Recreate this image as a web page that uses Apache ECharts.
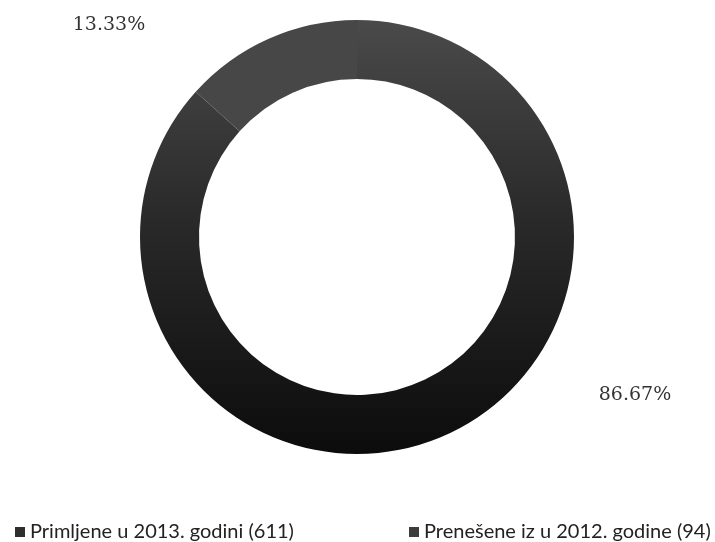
<!DOCTYPE html>
<html>
<head>
<meta charset="utf-8">
<script src="https://cdn.jsdelivr.net/npm/echarts@6/dist/echarts.min.js"></script>
<style>
  html, body { margin: 0; padding: 0; background: #ffffff; }
  #chart { width: 715px; height: 542px; }
</style>
</head>
<body>
<div id="chart"></div>
<script>
// Predmeti: primljene u 2013. i prenesene iz 2012. godine
const categories = ['Primljene u 2013. godini (611)', 'Prenešene iz u 2012. godine (94)'];
const counts = [611, 94];
const percentLabels = ['86.67%', '13.33%'];

const sliceColors = [
  new echarts.graphic.LinearGradient(0, 0, 0, 1, [
    { offset: 0, color: '#4a4a4a' },
    { offset: 0.45, color: '#2a2a2a' },
    { offset: 1, color: '#0c0c0c' }
  ]),
  '#474747'
];
const legendColors = ['#2e2e2e', '#3c3c3c'];

const chart = echarts.init(document.getElementById('chart'), null, { renderer: 'canvas' });

const labelSpots = [
  { x: 635, y: 395 },
  { x: 109, y: 25 }
];

chart.setOption({
  animation: false,
  backgroundColor: '#ffffff',
  legend: [0, 1].map(i => ({
    data: [{ name: categories[i], itemStyle: { color: legendColors[i] } }],
    left: i === 0 ? 10 : 404,
    top: 517,
    orient: 'horizontal',
    icon: 'rect',
    itemWidth: 10,
    itemHeight: 10,
    itemGap: 4,
    selectedMode: false,
    textStyle: { fontFamily: 'Lato', fontSize: 20, color: '#222222' }
  })),
  series: [{
    type: 'pie',
    center: [357, 237],
    radius: [158, 217],
    startAngle: 90,
    clockwise: true,
    avoidLabelOverlap: false,
    itemStyle: { borderWidth: 0 },
    label: {
      show: true,
      position: 'outside',
      formatter: p => percentLabels[p.dataIndex],
      fontFamily: 'DejaVu Serif',
      fontSize: 19,
      color: '#333333'
    },
    labelLine: { show: false },
    labelLayout: p => ({
      x: labelSpots[p.dataIndex].x,
      y: labelSpots[p.dataIndex].y,
      align: 'center',
      verticalAlign: 'middle'
    }),
    data: categories.map((name, i) => ({
      name: name,
      value: counts[i],
      itemStyle: { color: sliceColors[i] }
    }))
  }]
});
</script>
</body>
</html>
